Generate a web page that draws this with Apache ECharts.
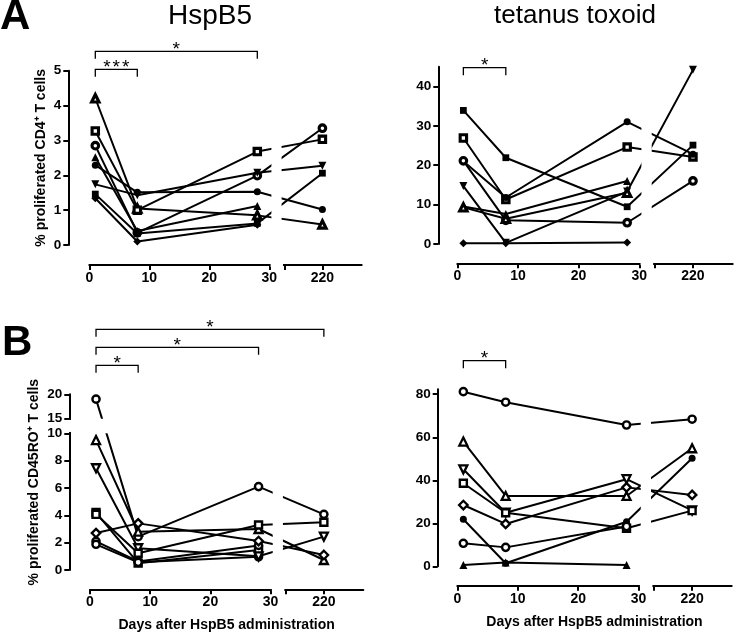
<!DOCTYPE html>
<html>
<head>
<meta charset="utf-8">
<script src="https://cdn.jsdelivr.net/npm/echarts@6/dist/echarts.min.js"></script>
<style>
html,body{margin:0;padding:0;background:#fff;}
#chart{width:735px;height:637px;}
</style>
</head>
<body>
<div id="chart"></div>
<script>
// ---------------- DATA ----------------
const days = [1, 8, 28, 220];
const xTickDays = [0, 10, 20, 30, 220];

// Panel A, HspB5 - % proliferated CD4+ T cells
const hspCD4Symbols = ['openTriangle', 'openSquare', 'openCircle', 'filledTriangle', 'filledCircle', 'filledDownTriangle', 'filledSquare', 'filledDiamond'];
const hspCD4 = [
  [4.21, 1.05, 0.85, 0.59],
  [3.27, 1.00, 2.68, 3.03],
  [2.85, 0.35, 1.99, 3.35],
  [2.52, 0.40, 1.12, null],
  [2.29, 1.51, 1.53, 1.02],
  [1.74, 1.43, 2.07, 2.27],
  [1.46, 0.33, 0.62, 2.06],
  [1.34, 0.10, 0.58, null]
];
const hspCD4Ticks = [0, 1, 2, 3, 4, 5];
const hspCD4Brackets = [[1, 8, '***'], [1, 28, '*']];

// Panel A, tetanus toxoid
const ttCD4Symbols = ['filledSquare', 'openSquare', 'filledCircle', 'openCircle', 'filledDownTriangle', 'filledTriangle', 'openTriangle', 'filledDiamond'];
const ttCD4 = [
  [33.9, 21.9, 9.45, 25.1],
  [26.9, 11.3, 24.6, 22.1],
  [21.0, 11.8, 31.0, 22.8],
  [21.1, 6.0, 5.4, 16.0],
  [14.7, 0.3, 13.3, 44.2],
  [9.5, 7.6, 16.0, null],
  [9.3, 6.4, 13.0, null],
  [0.2, 0.2, 0.4, null]
];
const ttCD4Ticks = [0, 10, 20, 30, 40];
const ttCD4Brackets = [[1, 8, '*']];

// Panel B, HspB5 - % proliferated CD45RO+ T cells
const hspROSymbols = ['openSquare', 'openCircle', 'openCircle', 'openCircle', 'openTriangle', 'openDownTriangle', 'openSquare', 'openDiamond'];
const hspRO = [
  [4.2, 0.50, 1.46, null],
  [2.1, 0.62, 1.80, null],
  [1.88, 0.56, 0.97, null],
  [19.0, 2.44, 6.1, 4.07],
  [9.5, 2.80, 3.00, 0.73],
  [7.44, 1.59, 1.00, 2.44],
  [4.07, 1.22, 3.29, 3.49],
  [2.7, 3.41, 2.12, 1.10]
];
const hspROTicks = [0, 2, 4, 6, 8, 10, 15, 20];
const hspROBrackets = [[1, 8, '*'], [1, 28, '*'], [1, 220, '*']];

// Panel B, tetanus toxoid
const ttROSymbols = ['openCircle', 'openTriangle', 'openDownTriangle', 'openSquare', 'openDiamond', 'filledCircle', 'openCircle', 'filledTriangle'];
const ttRO = [
  [81.2, 76.3, 65.7, 68.4],
  [58.0, 32.7, 32.7, 54.9],
  [45.1, 24.9, 40.5, 26.0],
  [38.6, 24.9, 17.7, 25.9],
  [28.5, 19.7, 36.7, 33.2],
  [21.9, 1.4, 20.7, 50.2],
  [10.7, 8.8, 18.5, null],
  [0.6, 1.8, 0.6, null]
];
const ttROTicks = [0, 20, 40, 60, 80];
const ttROBrackets = [[1, 8, '*']];

// ---------------- SCALES (broken axes) ----------------
const FONT = '"Liberation Sans", Arial, Helvetica, sans-serif';
const SEG2_START_DAY = 200;     // second x segment starts here
const SEG2_AT = 32.5;           // display position of second segment start
const SEG2_SCALE = 0.3175;      // display units per day in second segment
const X_MAX = 45.4;
const X_GAP = [30.35, 32.05];   // gap drawn in the connecting lines
function xDisp(d) { return d <= 30 ? d : SEG2_AT + (d - SEG2_START_DAY) * SEG2_SCALE; }

const RO_LOW_TOP = 10, RO_HIGH_START = 15, RO_HIGH_AT = 11.07, RO_HIGH_SCALE = 0.356;
function yIdent(v) { return v; }
function yRO(v) { return v <= RO_LOW_TOP ? v : RO_HIGH_AT + (v - RO_HIGH_START) * RO_HIGH_SCALE; }

const SYM = {
  openCircle:        { symbol: 'circle', size: 7.2, fill: '#fff', bw: 2.4 },
  filledCircle:      { symbol: 'circle', size: 7, fill: '#000', bw: 0 },
  openSquare:        { symbol: 'rect', size: 7, fill: '#fff', bw: 2.4 },
  filledSquare:      { symbol: 'rect', size: 6.8, fill: '#000', bw: 0 },
  openTriangle:      { symbol: 'triangle', size: 8, fill: '#fff', bw: 2.3 },
  filledTriangle:    { symbol: 'triangle', size: 8, fill: '#000', bw: 0 },
  openDownTriangle:  { symbol: 'path://M0,0L10,0L5,9Z', size: 8, fill: '#fff', bw: 2.3 },
  filledDownTriangle:{ symbol: 'path://M0,0L10,0L5,9Z', size: 8, fill: '#000', bw: 0 },
  openDiamond:       { symbol: 'diamond', size: 8.5, fill: '#fff', bw: 2.3 },
  filledDiamond:     { symbol: 'diamond', size: 8, fill: '#000', bw: 0 }
};

const panels = [
  { data: hspCD4, symbols: hspCD4Symbols, ticks: hspCD4Ticks, brackets: hspCD4Brackets, yf: yIdent, heavy: true,
    grid: { left: 89.3, top: 70.7, width: 272.4, height: 174.3 }, yMax: 5,
    yOffset: 21, xOffset: 20, yName: '% proliferated CD4\u207A T cells', yNameGap: 20, xName: '', bracketBase: -1.4 },
  { data: ttCD4, symbols: ttCD4Symbols, ticks: ttCD4Ticks, brackets: ttCD4Brackets, yf: yIdent, heavy: true,
    grid: { left: 457.3, top: 66.7, width: 275.4, height: 177.3 }, yMax: 45,
    yOffset: 19, xOffset: 19.3, yName: '', yNameGap: 20, xName: '', bracketBase: 1 },
  { data: hspRO, symbols: hspROSymbols, ticks: hspROTicks, brackets: hspROBrackets, yf: yRO, heavy: false,
    grid: { left: 90, top: 394.3, width: 273.3, height: 175.7 }, yMax: yRO(20),
    yOffset: 20.7, xOffset: 19.3, yName: '% proliferated CD45RO\u207A T cells', yNameGap: 28, xName: 'Days after HspB5 administration', bracketBase: -29 },
  { data: ttRO, symbols: ttROSymbols, ticks: ttROTicks, brackets: ttROBrackets, yf: yIdent, heavy: false,
    grid: { left: 457.3, top: 389.3, width: 274.4, height: 177 }, yMax: 82.3,
    yOffset: 19.6, xOffset: 19.4, yName: '', yNameGap: 20, xName: 'Days after HspB5 administration', bracketBase: -28.6 }
];

function labelLookup(values, f) {
  const m = {};
  values.forEach(v => { m[f(v).toFixed(4)] = String(v); });
  return val => (m[Number(val).toFixed(4)] !== undefined ? m[Number(val).toFixed(4)] : '');
}

const grids = [], xAxes = [], yAxes = [], series = [];
panels.forEach((p, i) => {
  grids.push(Object.assign({ containLabel: false, outerBoundsMode: 'none' }, p.grid));
  xAxes.push({
    gridIndex: i, type: 'value', min: 0, max: X_MAX, position: 'bottom', offset: p.xOffset,
    axisLine: { show: true, onZero: false, lineStyle: { color: '#000', width: 2 } },
    axisTick: { show: true, length: 5, lineStyle: { color: '#000', width: 2 },
      customValues: [0, 10, 20, 30, xDisp(SEG2_START_DAY), xDisp(220)] },
    axisLabel: { show: true, customValues: xTickDays.map(xDisp), formatter: labelLookup(xTickDays, xDisp),
      margin: 6, color: '#000', fontSize: 14, fontWeight: 'bold', fontFamily: FONT },
    splitLine: { show: false },
    name: p.xName, nameLocation: 'middle', nameGap: 29,
    nameTextStyle: { color: '#000', fontSize: 14, fontWeight: 'bold', fontFamily: FONT }
  });
  yAxes.push({
    gridIndex: i, type: 'value', min: 0, max: p.yMax, position: 'left', offset: p.yOffset,
    axisLine: { show: true, onZero: false, lineStyle: { color: '#000', width: 2 } },
    axisTick: { show: true, length: 5, lineStyle: { color: '#000', width: 2 }, customValues: p.ticks.map(p.yf) },
    axisLabel: { show: true, customValues: p.ticks.map(p.yf), formatter: labelLookup(p.ticks, p.yf),
      margin: 7, color: '#000', fontSize: 13.5, fontWeight: 'bold', fontFamily: FONT },
    splitLine: { show: false },
    name: p.yName, nameLocation: 'middle', nameRotate: 90, nameGap: p.yNameGap,
    nameTextStyle: { color: '#000', fontSize: 14, fontWeight: 'bold', fontFamily: FONT }
  });
  p.data.forEach((vals, k) => {
    const s = SYM[p.symbols[k]];
    const open = s.bw > 0;
    const size = open && p.heavy ? s.size - 0.6 : s.size;
    const bw = open && p.heavy ? 3.1 : s.bw;
    const pts = [];
    days.forEach((d, j) => { if (vals[j] !== null) pts.push([xDisp(d), p.yf(vals[j])]); });
    series.push({
      type: 'line', xAxisIndex: i, yAxisIndex: i, data: pts,
      symbol: s.symbol, symbolSize: size, showSymbol: true, clip: false, silent: true,
      itemStyle: { color: s.fill, borderColor: '#000', borderWidth: bw },
      lineStyle: { color: '#000', width: 2 },
      emphasis: { disabled: true }, animation: false
    });
  });
});

const chart = echarts.init(document.getElementById('chart'), null, { renderer: 'canvas' });
chart.setOption({
  animation: false, backgroundColor: '#fff',
  grid: grids, xAxis: xAxes, yAxis: yAxes, series: series
});

// ------------- overlays: axis breaks, brackets, titles -------------
const g = [];
const WHITE = { fill: '#fff' };
panels.forEach((p, i) => {
  const P = (x, y) => chart.convertToPixel({ gridIndex: i }, [x, y]);
  const top = P(0, p.yMax)[1], bot = P(0, 0)[1];
  const x0 = P(0, 0)[0], x1 = P(X_MAX, 0)[0];
  // gap in the connecting lines
  const ga = P(X_GAP[0], 0)[0], gb = P(X_GAP[1], 0)[0];
  g.push({ type: 'rect', z: 100, silent: true, shape: { x: ga, y: top - 8, width: gb - ga, height: bot - top + 14 }, style: WHITE });
  // gap in x axis line
  const axY = bot + p.xOffset;
  const a30 = P(30, 0)[0], aS2 = P(xDisp(SEG2_START_DAY), 0)[0];
  g.push({ type: 'rect', z: 100, silent: true, shape: { x: a30 + 1.3, y: axY - 3, width: aS2 - a30 - 2.6, height: 5 }, style: WHITE });
  // y axis break for the RO HspB5 panel
  if (p.yf === yRO) {
    const yLow = P(0, RO_LOW_TOP)[1], yHigh = P(0, RO_HIGH_AT)[1];
    const axX = x0 - p.yOffset;
    g.push({ type: 'rect', z: 100, silent: true, shape: { x: axX - 3, y: yHigh + 1.3, width: 6, height: yLow - yHigh - 2.6 }, style: WHITE });
    g.push({ type: 'rect', z: 100, silent: true, shape: { x: x0 - 3, y: yHigh, width: x1 - x0 + 3, height: yLow - yHigh }, style: WHITE });
  }
  // significance brackets
  p.brackets.forEach((b, k) => {
    const y = top + p.bracketBase - k * 18;
    const bx1 = P(xDisp(b[0]), 0)[0], bx2 = P(xDisp(b[1]), 0)[0];
    g.push({ type: 'polyline', z: 110, silent: true,
      shape: { points: [[bx1, y + 7.5], [bx1, y], [bx2, y], [bx2, y + 7.5]] },
      style: { stroke: '#000', lineWidth: 1.3, fill: null } });
    const n = b[2].length, cx = (bx1 + bx2) / 2;
    for (let j = 0; j < n; j++) {
      g.push({ type: 'text', z: 110, silent: true, x: cx + (j - (n - 1) / 2) * 9.3, y: y - 2,
        style: { text: b[2][j], fill: '#000', font: '19px ' + FONT, align: 'center', verticalAlign: 'middle' } });
    }
  });
});
// titles and panel letters
g.push({ type: 'text', z: 110, x: 210, y: 16, style: { text: 'HspB5', fill: '#000', font: '28px ' + FONT, align: 'center', verticalAlign: 'middle' } });
g.push({ type: 'text', z: 110, x: 575, y: 16, style: { text: 'tetanus toxoid', fill: '#000', font: '26px ' + FONT, align: 'center', verticalAlign: 'middle' } });
g.push({ type: 'text', z: 110, x: 0, y: 17, style: { text: 'A', fill: '#000', font: 'bold 42px ' + FONT, align: 'left', verticalAlign: 'middle' } });
g.push({ type: 'text', z: 110, x: 2, y: 343.5, style: { text: 'B', fill: '#000', font: 'bold 42px ' + FONT, align: 'left', verticalAlign: 'middle' } });

chart.setOption({ graphic: { elements: g } });
</script>
</body>
</html>
